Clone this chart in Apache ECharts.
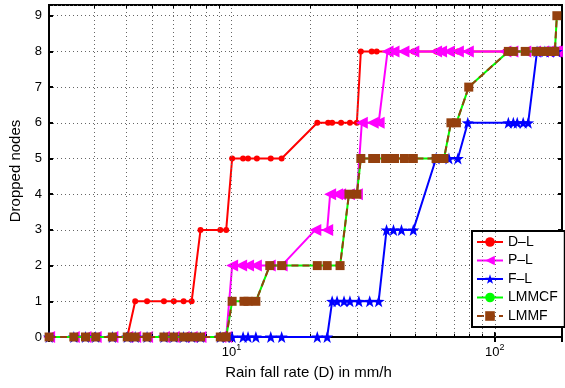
<!DOCTYPE html>
<html>
<head>
<meta charset="utf-8">
<script src="https://cdn.jsdelivr.net/npm/echarts@6/dist/echarts.min.js"></script>
<style>
html,body{margin:0;padding:0;background:#fff;overflow:hidden;}
#chart{width:565px;height:388px;}
</style>
</head>
<body>
<div id="chart"></div>
<script>
// ---- data (rain fall rate in mm/h, dropped nodes) ----
const seriesNames = ['D\u2013L', 'P\u2013L', 'F\u2013L', 'LMMCF', 'LMMF'];

const dlX = [2.03,2.52,2.79,3.05,3.53,4.02, 4.31,4.78,5.54,6.04,6.58,7.06, 7.63,9.07,9.55,
  10.06,11.07,11.56,12.49,14.1,15.51, 21.18,23.29,24.12,26.08,28.18,29.94,
  31.0,34.09,35.6,41.6,49.05,59.85,72.41,109.7,130.5,152.4,172.1];
const dlY = [0,0,0,0,0,0, 1,1,1,1,1,1, 3,3,3, 5,5,5,5,5,5, 6,6,6,6,6,6,
  8,8,8,8,8,8,8,8,8,8,8];

const plX = [2.03,2.52,2.79,3.05,3.53,4.02,4.31,4.78,5.54,6.04,6.58,7.06,7.63,9.07,9.55,
  10.06,10.88,11.56,12.38,13.98,15.51, 20.82,23.09, 23.7,25.18,25.85,27.94,29.94,
  31.26,34.38,36.22, 39.15,41.24,44.98,49.05,59.85,62.5,66.98,72.41,78.97,
  109.7,116.6,130.5,142.2,152.4,159.1,169.1,172.1];
const plY = [0,0,0,0,0,0,0,0,0,0,0,0,0,0,0, 2,2,2,2,2,2, 3,3, 4,4,4,4,4,
  6,6,6, 8,8,8,8,8,8,8,8,8, 8,8,8,8,8,8,8,8];

const flX = [2.03,2.52,2.79,3.05,3.53,4.02,4.31,4.78,5.54,6.04,6.58,7.06,7.63,9.07,9.55,
  10.06,11.07,11.56,12.38,14.1,15.51,21.18,23.09,
  24.12,25.18,26.76,28.18,30.47,33.5,36.22, 38.81,41.24,44.22,49.05,
  59.85,66.98,72.41, 78.97,112.6,117.6,121.7,128.2,133.9, 144.7,155.0,162.0,172.1];
const flY = [0,0,0,0,0,0,0,0,0,0,0,0,0,0,0, 0,0,0,0,0,0,0,0,
  1,1,1,1,1,1,1, 3,3,3,3, 5,5,5, 6,6,6,6,6,6, 8,8,8,8];

const lmX = [2.03,2.52,2.79,3.05,3.53,4.02,4.31,4.78,5.54,6.04,6.58,7.06,7.63,9.07,9.55,
  10.06,11.16,11.56,12.38, 13.98,15.51,21.18,23.09,25.85, 27.94,29.94,
  31.0,34.38,35.29,38.48,40.19,41.6,45.38,49.05,59.85,64.14, 68.16,71.5, 79.65,
  112.6,117.6,130.5,143.5,149.7,156.3,163.4,169.1, 172.1];
const lmY = [0,0,0,0,0,0,0,0,0,0,0,0,0,0,0, 1,1,1,1, 2,2,2,2,2, 4,4,
  5,5,5,5,5,5,5,5,5,5, 6,6, 7, 8,8,8,8,8,8,8,8, 9];

// LMMF coincides with LMMCF
const lfX = lmX.slice();
const lfY = lmY.slice();

const xGridValues = [3,4,5,6,7,8,9,10,20,30,40,50,60,70,80,90,100];
const xMinorTicks = [3,4,5,6,7,8,9,20,30,40,50,60,70,80,90];

const X_MIN = 2.028, X_MAX = 180, Y_MIN = 0, Y_MAX = 9.3;

// ---- chart ----
const FONT = '"Liberation Sans", Arial, Helvetica, sans-serif';
const zip = (xs, ys) => xs.map((x, i) => [x, ys[i]]);
const starPath = 'path://M0,-10 L2.35,-3.24 L9.51,-3.09 L3.8,1.24 L5.88,8.09 L0,4 L-5.88,8.09 L-3.8,1.24 L-9.51,-3.09 L-2.35,-3.24 Z';

function xLabel(v) {
  const e = Math.log10(v);
  if (Math.abs(e - Math.round(e)) < 1e-6) return '{b|10}{s|' + Math.round(e) + '}';
  return '';
}

const gridDotted = { type: [1, 3], color: '#666666', width: 1 };
const markData = [];
xGridValues.forEach(v => markData.push({ xAxis: v, lineStyle: gridDotted }));
xMinorTicks.forEach(v => {
  markData.push([{ coord: [v, Y_MIN], lineStyle: { color: '#000', width: 1, type: 'solid' } }, { coord: [v, 0.09] }]);
  markData.push([{ coord: [v, Y_MAX], lineStyle: { color: '#000', width: 1, type: 'solid' } }, { coord: [v, Y_MAX - 0.09] }]);
});

function lineSeries(name, xs, ys, color, symbol, size, extra) {
  return Object.assign({
    name: name, type: 'line', data: zip(xs, ys),
    xAxisIndex: 0, yAxisIndex: 0, clip: false,
    symbol: symbol, symbolSize: size, showAllSymbol: true,
    lineStyle: { color: color, width: 2 },
    itemStyle: { color: color, borderColor: color, borderWidth: 0 },
    emphasis: { disabled: true }
  }, extra || {});
}

const chart = echarts.init(document.getElementById('chart'), null, { renderer: 'canvas' });
chart.setOption({
  animation: false,
  backgroundColor: '#fff',
  textStyle: { fontFamily: FONT },
  grid: { left: 49, top: 5, width: 518, height: 332, show: true, borderColor: '#000', borderWidth: 2, backgroundColor: '#fff', containLabel: false },
  legend: {
    orient: 'vertical', left: 472, top: 231,
    padding: [4, 7, 4, 4], itemGap: 4.5, itemWidth: 26, itemHeight: 12,
    borderColor: '#000', borderWidth: 2, backgroundColor: '#fff',
    textStyle: { fontSize: 14, color: '#000', fontFamily: FONT },
    data: seriesNames
  },
  xAxis: [{
    type: 'log', logBase: 10, min: X_MIN, max: X_MAX,
    axisLine: { show: true, onZero: false, lineStyle: { color: '#000', width: 2 } },
    axisTick: { show: true, inside: true, length: 5, lineStyle: { color: '#000', width: 2 } },
    splitLine: { show: false }, minorTick: { show: false },
    axisLabel: {
      margin: 6, formatter: xLabel, color: '#000',
      rich: {
        b: { fontSize: 13, color: '#000', fontFamily: FONT },
        s: { fontSize: 9, color: '#000', fontFamily: FONT, padding: [0, 0, 9, 0] }
      }
    },
    name: 'Rain fall rate (D) in mm/h', nameLocation: 'middle', nameGap: 28,
    nameTextStyle: { fontSize: 15, color: '#000', fontFamily: FONT, padding: [0, 0, 0, 6] }
  }, {
    type: 'log', logBase: 10, min: X_MIN, max: X_MAX, position: 'top',
    axisLine: { show: false }, axisLabel: { show: false }, splitLine: { show: false },
    axisTick: { show: true, inside: true, length: 5, lineStyle: { color: '#000', width: 2 } }
  }],
  yAxis: [{
    type: 'value', min: Y_MIN, max: Y_MAX, interval: 1,
    axisLine: { show: true, onZero: false, lineStyle: { color: '#000', width: 2 } },
    axisTick: { show: true, inside: true, length: 4, lineStyle: { color: '#000', width: 2 } },
    splitLine: { show: true, lineStyle: gridDotted },
    axisLabel: { margin: 7, fontSize: 13, color: '#000', fontFamily: FONT,
      formatter: v => (Math.abs(v - Math.round(v)) < 1e-9 ? String(Math.round(v)) : '') },
    name: 'Dropped nodes', nameLocation: 'middle', nameGap: 26, nameRotate: 90,
    nameTextStyle: { fontSize: 15, color: '#000', fontFamily: FONT }
  }, {
    type: 'value', min: Y_MIN, max: Y_MAX, interval: 1, position: 'right',
    axisLine: { show: false }, axisLabel: { show: false }, splitLine: { show: false },
    axisTick: { show: true, inside: true, length: 4, lineStyle: { color: '#000', width: 2 } }
  }],
  series: [
    {
      name: '_grid', type: 'line', data: [], xAxisIndex: 0, yAxisIndex: 0, z: 1, silent: true,
      markLine: { silent: true, symbol: ['none', 'none'], label: { show: false }, animation: false,
        emphasis: { disabled: true }, data: markData }
    },
    lineSeries(seriesNames[0], dlX, dlY, '#ff0000', 'circle', 6, { z: 3 }),
    lineSeries(seriesNames[1], plX, plY, '#ff00ff', 'triangle', 12, { z: 4, symbolRotate: 90 }),
    lineSeries(seriesNames[2], flX, flY, '#0000ff', starPath, 12, { z: 5 }),
    lineSeries(seriesNames[3], lmX, lmY, '#00ff00', 'circle', 6, { z: 6 }),
    lineSeries(seriesNames[4], lfX, lfY, '#94400e', 'rect', 9, { z: 7, lineStyle: { color: '#94400e', width: 2, type: [7, 4] } })
  ]
});
</script>
</body>
</html>
